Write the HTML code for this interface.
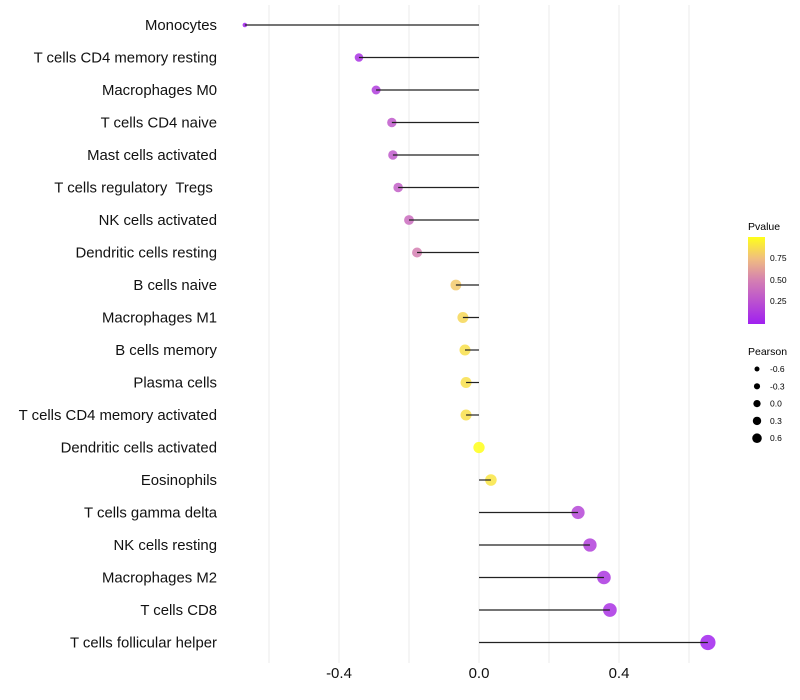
<!DOCTYPE html>
<html><head><meta charset="utf-8"><style>
body{margin:0;background:#fff}
svg{display:block;font-family:"Liberation Sans",sans-serif}
#labels text{white-space:pre}
</style></head><body>
<svg id="c" width="800" height="700">
<defs><linearGradient id="pg" x1="0" y1="1" x2="0" y2="0">
<stop offset="0" stop-color="#a020f0"/><stop offset="0.5" stop-color="#d47fb2"/><stop offset="0.75" stop-color="#f0bd80"/><stop offset="1" stop-color="#ffff1a"/></linearGradient></defs>
<g id="grid"></g><g id="marks"></g><g id="labels"></g><g id="ticks"></g>
<g>
<text x="748" y="230" font-size="10.5">Pvalue</text>
<rect x="748" y="237" width="17" height="87" fill="url(#pg)"/>
<text x="770" y="261" font-size="8.5">0.75</text>
<text x="770" y="283" font-size="8.5">0.50</text>
<text x="770" y="304" font-size="8.5">0.25</text>
</g>
<g id="sizeleg">
<text x="748" y="355" font-size="10.5">Pearson</text>
</g>
</svg>
<script>
const categories=["Monocytes","T cells CD4 memory resting","Macrophages M0","T cells CD4 naive","Mast cells activated","T cells regulatory  Tregs ","NK cells activated","Dendritic cells resting","B cells naive","Macrophages M1","B cells memory","Plasma cells","T cells CD4 memory activated","Dendritic cells activated","Eosinophils","T cells gamma delta","NK cells resting","Macrophages M2","T cells CD8","T cells follicular helper"];
const pearson=[-0.669,-0.343,-0.294,-0.249,-0.246,-0.231,-0.2,-0.177,-0.066,-0.046,-0.04,-0.037,-0.037,0.0,0.034,0.283,0.317,0.357,0.374,0.654];
const pvalue=[0.01,0.1,0.15,0.3,0.3,0.33,0.4,0.5,0.8,0.85,0.88,0.88,0.88,1.0,0.9,0.2,0.17,0.12,0.1,0.02];
const xTicks=[-0.4,0.0,0.4];
const sizeLegend=[-0.6,-0.3,0.0,0.3,0.6];
const NS="http://www.w3.org/2000/svg";
const x=v=>479+v*350;
const y=i=>25+i*32.5;
const r=v=>Math.sqrt(Math.max(4,32+40*v));
const rl=v=>2.5+1.9*(v+0.6);
function lerp(a,b,t){return a.map((c,k)=>Math.round(c+(b[k]-c)*t));}
function col(p){const s=[[0,[160,32,240]],[0.5,[212,127,178]],[0.75,[240,189,128]],[1,[255,255,26]]];
for(let k=1;k<s.length;k++){if(p<=s[k][0]){const t=(p-s[k-1][0])/(s[k][0]-s[k-1][0]);const c=lerp(s[k-1][1],s[k][1],t);return `rgb(${c})`;}}return "rgb(255,255,26)";}
function mk(tag,a,parent){const e=document.createElementNS(NS,tag);for(const k in a)e.setAttribute(k,a[k]);document.getElementById(parent).appendChild(e);return e;}
[-0.6,-0.4,-0.2,0,0.2,0.4,0.6].forEach(v=>{const l=mk("line",{x1:x(v),x2:x(v),y1:5,y2:663,stroke:"#ebebeb","stroke-width":1},"grid");

});
categories.forEach((c,i)=>{
const ci=mk("circle",{cx:x(pearson[i]),cy:y(i),r:r(pearson[i]),fill:col(pvalue[i]),"fill-opacity":0.85},"marks");


const ln=mk("line",{x1:x(0),x2:x(pearson[i]),y1:y(i),y2:y(i),stroke:"#222","stroke-width":1.2},"marks");


const t=mk("text",{x:217,y:y(i)+5,"text-anchor":"end","font-size":14.9,fill:"#111"},"labels");
t.textContent=c;


});
xTicks.forEach(v=>{const t=mk("text",{x:x(v),y:678,"text-anchor":"middle","font-size":15,fill:"#111"},"ticks");
t.textContent=v.toFixed(1);

});
sizeLegend.forEach((v,k)=>{const cy=369+k*17.3;
const ci=mk("circle",{cx:757,cy:cy,r:rl(v),fill:"#000"},"sizeleg");


const t=mk("text",{x:770,y:cy+3,"font-size":8.5},"sizeleg");
t.textContent=v.toFixed(1);

});
</script>
</body></html>
